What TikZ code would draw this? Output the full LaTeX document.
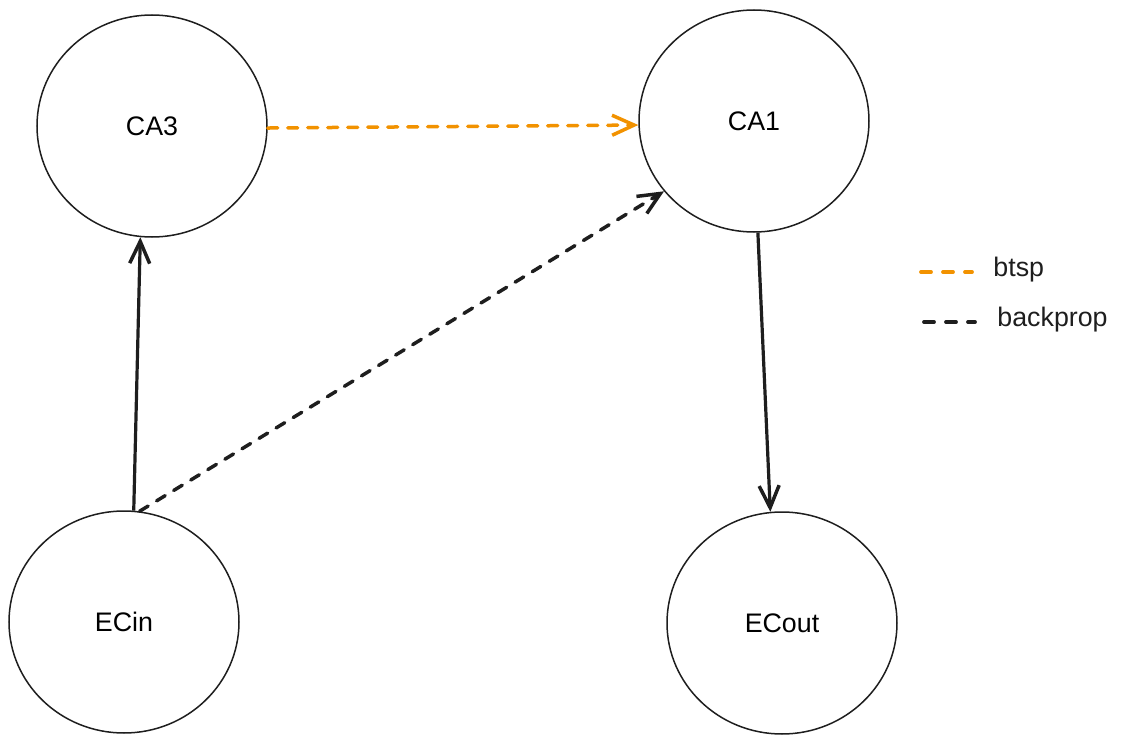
\documentclass[tikz,border=0pt]{standalone}
\usepackage{fontspec}
\setmainfont{Liberation Sans}
\usetikzlibrary{arrows.meta,shapes.geometric}
\definecolor{btspcol}{RGB}{242,146,0}
\definecolor{inkcol}{RGB}{30,30,30}
\begin{document}
\begin{tikzpicture}
        [x=0.5pt, y=-0.5pt, font=\fontsize{13.4}{16}\selectfont, >={Straight Barb[length=11pt, width=10pt, line width=1.75pt]},
        region/.style={ellipse, draw=inkcol, line width=0.75pt, minimum width=115pt, minimum height=111pt, inner sep=0pt},
        link/.style={->, draw=inkcol, line width=1.6pt},
        learn/.style={->, line width=1.75pt, line cap=round, dash pattern=on 5pt off 5pt}]

        \useasboundingbox (0, 0) rectangle (1121, 744);

        \node[region] (ca3) at (152, 126) {CA3};
        \node[region] (ca1) at (754, 121) {CA1};
        \node[region] (ecin) at (124, 622) {ECin};
        \node[region] (ecout) at (782, 623) {ECout};

        \draw[link] (ecin.85) -- (ca3.264);
        \draw[link] (ca1.272) -- (ecout.96);
        \draw[learn, draw=btspcol] (ca3.359) -- (ca1.182);
        \draw[learn, draw=inkcol] (ecin.82) -- (ca1.218);

        % legend
        \coordinate (btspA) at (921, 272);
        \coordinate (btspB) at (972, 272);
        \coordinate (bpA) at (924, 322);
        \coordinate (bpB) at (975, 322);
        \draw[line width=1.9pt, line cap=round, dash pattern=on 5pt off 6pt, draw=btspcol] (btspA) -- (btspB);
        \draw[line width=1.9pt, line cap=round, dash pattern=on 5pt off 6pt, draw=inkcol] (bpA) -- (bpB);
        \node[anchor=west, inner sep=0pt, text=inkcol] (btsplbl) at (993, 270) {btsp};
        \node[anchor=west, inner sep=0pt, text=inkcol] (bplbl) at (997, 320) {backprop};
    \end{tikzpicture}
\end{document}
